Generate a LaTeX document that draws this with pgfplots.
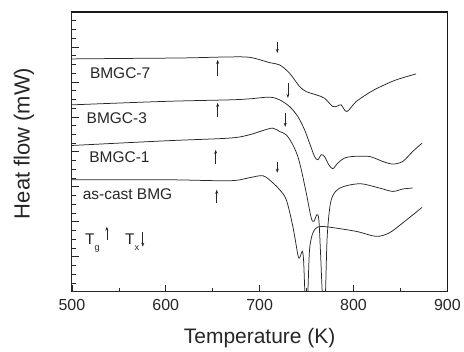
\documentclass[border=0pt]{standalone}
\usepackage{pgfplots}
\pgfplotsset{compat=1.18}
\usetikzlibrary{arrows.meta}
\usepackage{fontspec}
\setmainfont{Liberation Sans}
\begin{document}
\begin{tikzpicture}
\begin{axis}[
 scale only axis, width=376pt, height=280pt,
 xmin=500, xmax=900, ymin=0, ymax=280,
 xtick={500,600,...,900}, minor x tick num=1,
 ytick={0,35,...,280}, minor y tick num=3, yticklabels={},
 tick align=inside, xtick pos=bottom, ytick pos=left,
 major tick length=7pt, minor tick length=4pt,
 axis line style={line width=1pt, black!85},
 every tick/.style={line width=0.6pt, black!85},
 /pgf/number format/assume math mode=true,
 ticklabel style={font=\fontsize{16}{18}\selectfont, text=black!85},
 xticklabel style={yshift=-4pt},
 xlabel={Temperature (K)}, ylabel={Heat flow (mW)},
 xlabel style={font=\fontsize{21}{24}\selectfont, text=black!85, at={(axis description cs:0.5,-0.186)}, anchor=base},
 ylabel style={font=\fontsize{22}{24}\selectfont, text=black!85, at={(axis description cs:-0.128,0.53)}, anchor=center},
 clip=true,
]
\addplot[black!85, line width=0.75pt, smooth, tension=0.5] coordinates {
(500,233)(560,233.5)(620,234)(668,235)(690,234.5)(710.6,229.3)(721.3,227)(731.9,218.7)(742.6,205.3)(749.7,200.3)(760.3,197)(769.1,193.7)(778,185.3)(783.3,186)(786.9,187)(792.9,180.3)(802.9,190.3)(817,199.3)(827.7,204.7)(845.4,212)(866.7,218)
};
\addplot[black!85, line width=0.75pt, smooth, tension=0.5] coordinates {
(500,187)(600,190.5)(668,192)(689,193)(710.6,194.7)(721.3,192)(731.9,185.3)(740.7,175.3)(747.9,162)(753.2,148.7)(758.5,135.3)(762,132)(765.6,137)(769.1,135.3)(773.7,127)(778,123)(783.3,128.7)(790.4,133.7)(799.3,135.3)(817,135.3)(831.2,130.3)(841.8,127.7)(852.4,130.3)(863.1,140.3)(873.1,148.7)
};
\addplot[black!85, line width=0.75pt, smooth, tension=0.5] coordinates {
(500,146.3)(600,151)(668,153.7)(689,157)(703.5,161.3)(714,163.7)(721.3,160.3)(728.4,157)(735.4,147)(740.7,135.3)(744.4,122)(749.7,98.7)(755,73.7)(757.8,70.3)(761,77)(763.1,72)(764.9,38.7)(766.7,0)(768.5,-20)(770.2,0)(772,55.3)(775.5,88.7)(780.9,100.3)(789.7,105.3)(807.5,108)(827.7,103.7)(841.8,100.3)(852.4,102.7)(863.1,103.7)
};
\addplot[black!85, line width=0.75pt, smooth, tension=0.5] coordinates {
(500,112)(600,112)(668,111)(689,114)(703.5,116)(714,109)(721.3,102)(728.4,92)(735.4,65.3)(740.7,37)(742.6,33.7)(745.4,40.3)(746.8,32)(748.2,0)(749.7,-20)(751.4,0)(753.2,42)(756.7,58.7)(762,64.7)(772.7,64.7)(802.9,60.3)(824,55.3)(838,58.7)(852.4,68.7)(873,84.3)
};
\draw[-{Stealth[length=4pt,width=3pt]}, line width=0.6pt, black!85] (axis cs:655.3,216) -- (axis cs:655.3,232);
\draw[-{Stealth[length=4pt,width=3pt]}, line width=0.6pt, black!85] (axis cs:655.3,175) -- (axis cs:655.3,189);
\draw[-{Stealth[length=4pt,width=3pt]}, line width=0.6pt, black!85] (axis cs:653.2,128) -- (axis cs:653.2,142);
\draw[-{Stealth[length=4pt,width=3pt]}, line width=0.6pt, black!85] (axis cs:654.3,89) -- (axis cs:654.3,102);
\draw[-{Stealth[length=4pt,width=3pt]}, line width=0.6pt, black!85] (axis cs:718.8,250) -- (axis cs:718.8,239);
\draw[-{Stealth[length=4pt,width=3pt]}, line width=0.6pt, black!85] (axis cs:730.1,209) -- (axis cs:730.1,194);
\draw[-{Stealth[length=4pt,width=3pt]}, line width=0.6pt, black!85] (axis cs:727.3,179) -- (axis cs:727.3,165);
\draw[-{Stealth[length=4pt,width=3pt]}, line width=0.6pt, black!85] (axis cs:718.8,130) -- (axis cs:718.8,119);
\draw[-{Stealth[length=4pt,width=3pt]}, line width=0.6pt, black!85] (axis cs:537.2,52) -- (axis cs:537.2,65);
\draw[-{Stealth[length=4pt,width=3pt]}, line width=0.6pt, black!85] (axis cs:575.5,60) -- (axis cs:575.5,45);
\node[anchor=base west, inner sep=0pt, font=\fontsize{15.5}{17}\selectfont, text=black!85] at (axis cs:519.1,213) {BMGC-7};
\node[anchor=base west, inner sep=0pt, font=\fontsize{15.5}{17}\selectfont, text=black!85] at (axis cs:515.6,168) {BMGC-3};
\node[anchor=base west, inner sep=0pt, font=\fontsize{15.5}{17}\selectfont, text=black!85] at (axis cs:518.4,129) {BMGC-1};
\node[anchor=base west, inner sep=0pt, font=\fontsize{15.5}{17}\selectfont, text=black!85] at (axis cs:511.4,92) {as-cast BMG};
\node[anchor=base west, inner sep=0pt, font=\fontsize{15.5}{17}\selectfont, text=black!85] at (axis cs:514,47) {T\raisebox{-6pt}{\fontsize{9}{10}\selectfont g}};
\node[anchor=base west, inner sep=0pt, font=\fontsize{15.5}{17}\selectfont, text=black!85] at (axis cs:556.6,47) {T\raisebox{-6pt}{\fontsize{9}{10}\selectfont x}};
\end{axis}
\draw[line width=1.2pt, black!90] (current axis.north west) -- (current axis.north east) -- (current axis.south east);
\path ([shift={(-72pt,-57pt)}]current axis.south west) rectangle ([shift={(16pt,12pt)}]current axis.north east);
\end{tikzpicture}
\end{document}
